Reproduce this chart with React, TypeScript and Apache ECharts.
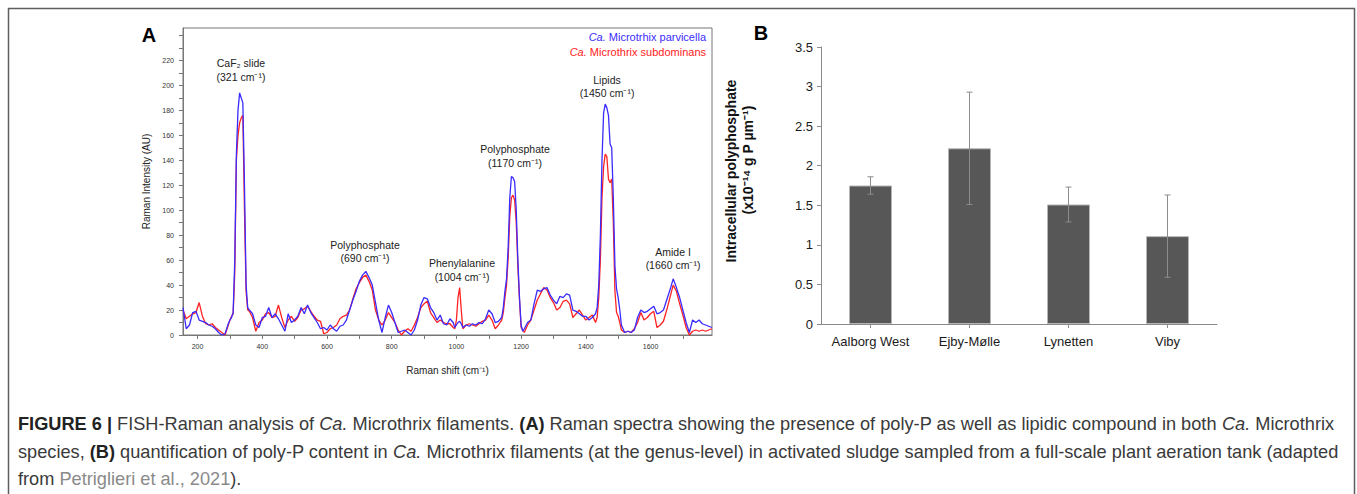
import React, { useEffect, useRef } from "react";
import * as echarts from "echarts";

// ---------- Panel A: Raman spectra ----------
const wavenumbers = [
  155, 165, 175, 185, 195, 205, 215, 225, 235, 245, 255, 265, 275, 285, 295,
  300, 305, 310, 315, 320, 325, 330, 335, 340, 345, 350, 355, 360,
  370, 380, 390, 400, 410, 420, 430, 440, 450, 460, 470, 480, 490, 500, 510, 520, 530, 540, 550, 560,
  570, 580, 590, 600, 610, 620, 630, 640, 650, 660, 670, 680, 690, 700, 710, 720, 730, 740, 750, 760,
  770, 780, 790, 800, 810, 820, 830, 840, 850, 860, 870, 880, 890, 900, 910, 920, 930, 940, 950, 960,
  970, 980, 990,
  995, 1000, 1005, 1010, 1015, 1020,
  1030, 1040, 1050, 1060, 1070, 1080, 1090, 1100, 1110, 1120, 1130, 1140,
  1145, 1150, 1155, 1160, 1165, 1170, 1175, 1180, 1185, 1190, 1195, 1200, 1205, 1210,
  1220, 1230, 1240, 1250, 1260, 1270, 1280, 1290, 1300, 1310, 1320, 1330, 1340, 1350, 1360, 1370,
  1380, 1390, 1400, 1410, 1420, 1430,
  1435, 1440, 1445, 1450, 1455, 1460, 1465, 1470, 1475, 1480, 1485, 1490, 1495, 1500, 1505, 1510,
  1520, 1530, 1540, 1550, 1560, 1570, 1580, 1590, 1600, 1610, 1620, 1630, 1640, 1650, 1660, 1670,
  1680, 1690, 1700, 1710, 1720, 1730, 1740, 1750, 1760, 1770, 1780, 1790,
];

const parvicella = [
  22, 5, 8, 18, 19, 12, 11, 10, 8, 7, 5, 2, 0, 1, 9,
  12, 14, 18, 60, 145, 180, 194, 190, 186, 120, 40, 22, 20,
  17, 8, 6, 14, 15, 22, 14, 17, 13, 8, 3, 17, 10, 12, 15, 22, 17, 24, 18, 14,
  10, 5, 6, 4, 8, 5, 3, 7, 8, 12, 20, 28, 35, 43, 48, 51, 46, 40, 26, 12,
  2, 14, 24, 18, 10, 2, 3, 4, 2, 0, 4, 12, 24, 30, 29, 22, 18, 12, 16, 9,
  8, 13, 10,
  6, 8, 10, 11, 9, 6,
  8, 7, 9, 8, 10, 9, 13, 20, 17, 10, 11, 14,
  22, 35, 45, 70, 110, 127, 126, 123, 100, 60, 30, 8, 3, 5,
  10, 12, 25, 36, 35, 37, 38, 32, 28, 25, 31, 30, 33, 32, 20, 19,
  17, 15, 15, 12, 14, 17,
  22, 40, 80, 140, 178, 185, 182, 176, 153, 150, 110, 55, 37, 30, 20, 8,
  2, 3, 2, 4, 14, 20, 18, 19, 21, 23, 17, 18, 20, 28, 36, 45,
  38, 30, 20, 10, 2, 12, 10, 12, 9, 8, 7, 6,
];

const subdominans = [
  20, 13, 15, 17, 18, 26, 15, 9, 8, 9, 6, 4, 2, 0, 8,
  12, 15, 17, 50, 140, 160, 170, 174, 176, 100, 35, 20, 19,
  14, 3, 10, 12, 17, 18, 14, 15, 24, 14, 6, 12, 15, 11, 14, 20, 21, 23, 19, 15,
  12, 11, 1, 2, 5, 6, 8, 13, 15, 16, 20, 29, 37, 42, 46, 48, 43, 36, 20, 12,
  8, 12, 18, 14, 10, 4, 0, 3, 5, 3, 8, 14, 22, 25, 27, 18, 14, 10, 12, 10,
  9, 9, 6,
  5, 12, 30, 38, 20, 5,
  8, 9, 8, 7, 9, 11, 12, 16, 12, 5, 8, 12,
  18, 30, 40, 62, 95, 110, 112, 108, 90, 55, 28, 6, 4, 2,
  8, 12, 20, 28, 33, 38, 36, 30, 26, 20, 22, 27, 28, 25, 14, 17,
  20, 16, 12, 14, 16, 10,
  14, 30, 60, 110, 135, 145, 143, 125, 122, 125, 90, 35, 18, 15, 10, 4,
  2, 3, 2, 5, 10, 18, 12, 14, 17, 19, 6, 8, 11, 20, 30, 40,
  35, 25, 16, 6, 0, 3, 4, 3, 4, 3, 4, 5,
];

const xTickValues = [200, 300, 400, 500, 600, 700, 800, 900, 1000, 1100, 1200, 1300, 1400, 1500, 1600, 1700];
const xLabelValues = [200, 400, 600, 800, 1000, 1200, 1400, 1600];
const yTickValues = [0, 10, 20, 30, 40, 50, 60, 70, 80, 90, 100, 110, 120, 130, 140, 150, 160, 170, 180, 190, 200, 210, 220, 230, 240];
const yLabelValues = [0, 20, 40, 60, 80, 100, 120, 140, 160, 180, 200, 220];

const peakNames = ["CaF₂ slide", "Polyphosphate", "Phenylalanine", "Polyphosphate", "Lipids", "Amide I"];
const peakShifts = ["(321 cm⁻¹)", "(690 cm⁻¹)", "(1004 cm⁻¹)", "(1170 cm⁻¹)", "(1450 cm⁻¹)", "(1660 cm⁻¹)"];
const peakLabelPos = [
  [241, 70],
  [365, 251.5],
  [462, 270],
  [515, 156],
  [607, 86.5],
  [673, 258.5],
];

// ---------- Panel B: polyphosphate content ----------
const sites = ["Aalborg West", "Ejby-Mølle", "Lynetten", "Viby"];
const polyP = [1.75, 2.22, 1.51, 1.11];
const polyPError = [0.11, 0.71, 0.22, 0.52];

const BLUE = "#3a2bff";
const RED = "#ff2222";
const FONT = "'Liberation Sans', Arial, Helvetica, sans-serif";

export default function App() {
  const ref = useRef<HTMLDivElement>(null);

  useEffect(() => {
    if (!ref.current) return;
    const chart = echarts.init(ref.current, undefined, { renderer: "svg" });

    const peakGraphics = peakNames.map((n, i) => ({
      type: "text",
      x: peakLabelPos[i][0],
      y: peakLabelPos[i][1],
      style: {
        text: n + "\n" + peakShifts[i],
        align: "center",
        verticalAlign: "middle",
        fontSize: 10.5,
        lineHeight: 13.5,
        fontFamily: FONT,
        fill: "#222",
      },
    }));

    const capBase = { fontSize: 18.2, fontFamily: FONT, fill: "#3a3a3a" };
    const capRich = {
      b: { ...capBase, fontWeight: "bold", fill: "#222" },
      i: { ...capBase, fontStyle: "italic" },
      g: { ...capBase, fill: "#8a8a8a" },
    };

    chart.setOption({
      animation: false,
      backgroundColor: "#fff",
      textStyle: { fontFamily: FONT },
      grid: [
        { left: 183, top: 28, width: 529, height: 307, show: true, borderColor: "#777", borderWidth: 1, backgroundColor: "transparent" },
        { left: 821, top: 47, width: 396, height: 277 },
      ],
      xAxis: [
        {
          type: "value",
          gridIndex: 0,
          min: 155,
          max: 1790,
          name: "Raman shift (cm⁻¹)",
          nameLocation: "middle",
          nameGap: 30,
          nameTextStyle: { fontSize: 10, color: "#222", fontFamily: FONT },
          axisLine: { show: true, lineStyle: { color: "#777", width: 1 } },
          axisTick: { show: true, length: 4, lineStyle: { color: "#777" }, customValues: xTickValues },
          axisLabel: { fontSize: 7, color: "#333", margin: 8, customValues: xLabelValues, formatter: (v: number) => String(v) },
          splitLine: { show: false },
        },
        {
          type: "category",
          gridIndex: 1,
          data: sites,
          axisLine: { show: true, lineStyle: { color: "#8a8a8a", width: 1 } },
          axisTick: { show: true, alignWithLabel: true, length: 4, lineStyle: { color: "#8a8a8a" } },
          axisLabel: { fontSize: 13, color: "#1a1a1a", margin: 11, fontFamily: FONT, interval: 0, hideOverlap: false },
          splitLine: { show: false },
        },
      ],
      yAxis: [
        {
          type: "value",
          gridIndex: 0,
          min: 0,
          max: 246,
          name: "Raman Intensity (AU)",
          nameLocation: "middle",
          nameGap: 32,
          nameTextStyle: { fontSize: 10, color: "#222", fontFamily: FONT },
          axisLine: { show: true, lineStyle: { color: "#777", width: 1 } },
          axisTick: { show: true, length: 4, lineStyle: { color: "#777" }, customValues: yTickValues },
          axisLabel: { fontSize: 7, color: "#333", margin: 9, customValues: yLabelValues, formatter: (v: number) => String(v) },
          splitLine: { show: false },
        },
        {
          type: "value",
          gridIndex: 1,
          min: 0,
          max: 3.5,
          interval: 0.5,
          axisLine: { show: true, lineStyle: { color: "#8a8a8a", width: 1 } },
          axisTick: { show: true, length: 4, lineStyle: { color: "#8a8a8a" } },
          axisLabel: { fontSize: 13, color: "#1a1a1a", margin: 8, fontFamily: FONT },
          splitLine: { show: false },
        },
      ],
      series: [
        {
          name: "Ca. Microthrix subdominans",
          type: "line",
          xAxisIndex: 0,
          yAxisIndex: 0,
          showSymbol: false,
          symbol: "none",
          lineStyle: { color: RED, width: 1.3 },
          itemStyle: { color: RED },
          data: wavenumbers.map((w, i) => [w, subdominans[i]]),
          z: 2,
        },
        {
          name: "Ca. Microtrhix parvicella",
          type: "line",
          xAxisIndex: 0,
          yAxisIndex: 0,
          showSymbol: false,
          symbol: "none",
          lineStyle: { color: BLUE, width: 1.3 },
          itemStyle: { color: BLUE },
          data: wavenumbers.map((w, i) => [w, parvicella[i]]),
          z: 3,
        },
        {
          name: "Intracellular polyphosphate",
          type: "bar",
          xAxisIndex: 1,
          yAxisIndex: 1,
          barWidth: 43,
          itemStyle: { color: "#575757", borderColor: "#b5b5b5", borderWidth: 1 },
          data: polyP,
        },
        {
          name: "SD",
          type: "custom",
          xAxisIndex: 1,
          yAxisIndex: 1,
          z: 10,
          data: polyP.map((v, i) => [i, v - polyPError[i], v + polyPError[i]]),
          renderItem: (params: any, api: any) => {
            const idx = api.value(0);
            const lo = api.coord([idx, api.value(1)]);
            const hi = api.coord([idx, api.value(2)]);
            const hw = 3;
            const st = { stroke: "#8c8c8c", lineWidth: 1 };
            return {
              type: "group",
              children: [
                { type: "line", shape: { x1: hi[0], y1: hi[1], x2: lo[0], y2: lo[1] }, style: st },
                { type: "line", shape: { x1: hi[0] - hw, y1: hi[1], x2: hi[0] + hw, y2: hi[1] }, style: st },
                { type: "line", shape: { x1: lo[0] - hw, y1: lo[1], x2: lo[0] + hw, y2: lo[1] }, style: st },
              ],
            };
          },
        },
      ],
      graphic: [
        {
          type: "rect",
          shape: { x: 8.5, y: 8.5, width: 1346, height: 500 },
          style: { fill: "none", stroke: "#5e5e5e", lineWidth: 1.5 },
          silent: true,
        },
        {
          type: "text",
          x: 149,
          y: 35,
          style: { text: "A", fontSize: 20, fontWeight: "bold", fontFamily: FONT, fill: "#000", align: "center", verticalAlign: "middle" },
        },
        {
          type: "text",
          x: 761,
          y: 33,
          style: { text: "B", fontSize: 20, fontWeight: "bold", fontFamily: FONT, fill: "#000", align: "center", verticalAlign: "middle" },
        },
        {
          type: "text",
          x: 706,
          y: 37,
          style: {
            text: "{i|Ca.} Microtrhix parvicella",
            align: "right",
            verticalAlign: "middle",
            fontSize: 11,
            fontFamily: FONT,
            fill: BLUE,
            rich: { i: { fontSize: 11, fontFamily: FONT, fontStyle: "italic", fill: BLUE } },
          },
        },
        {
          type: "text",
          x: 706,
          y: 52,
          style: {
            text: "{i|Ca.} Microthrix subdominans",
            align: "right",
            verticalAlign: "middle",
            fontSize: 11,
            fontFamily: FONT,
            fill: RED,
            rich: { i: { fontSize: 11, fontFamily: FONT, fontStyle: "italic", fill: RED } },
          },
        },
        ...peakGraphics,
        {
          type: "text",
          x: 731,
          y: 171,
          rotation: Math.PI / 2,
          style: { text: "Intracellular polyphosphate", fontSize: 14, fontWeight: "bold", fontFamily: FONT, fill: "#111", align: "center", verticalAlign: "middle" },
        },
        {
          type: "text",
          x: 748,
          y: 160,
          rotation: Math.PI / 2,
          style: { text: "(x10⁻¹⁴ g P µm⁻¹)", fontSize: 14, fontWeight: "bold", fontFamily: FONT, fill: "#111", align: "center", verticalAlign: "middle" },
        },
        {
          type: "text",
          x: 18,
          y: 424,
          style: {
            ...capBase,
            verticalAlign: "middle",
            text: "{b|FIGURE 6 |} FISH-Raman analysis of {i|Ca.} Microthrix filaments. {b|(A)} Raman spectra showing the presence of poly-P as well as lipidic compound in both {i|Ca.} Microthrix",
            rich: capRich,
          },
        },
        {
          type: "text",
          x: 18,
          y: 452,
          style: {
            ...capBase,
            verticalAlign: "middle",
            text: "species, {b|(B)} quantification of poly-P content in {i|Ca.} Microthrix filaments (at the genus-level) in activated sludge sampled from a full-scale plant aeration tank (adapted",
            rich: capRich,
          },
        },
        {
          type: "text",
          x: 18,
          y: 479,
          style: {
            ...capBase,
            verticalAlign: "middle",
            text: "from {g|Petriglieri et al., 2021}).",
            rich: capRich,
          },
        },
      ],
    });

    return () => chart.dispose();
  }, []);

  return (
    <div
      ref={ref}
      style={{ position: "absolute", left: 0, top: 0, width: 1357, height: 494, background: "#fff" }}
    />
  );
}
